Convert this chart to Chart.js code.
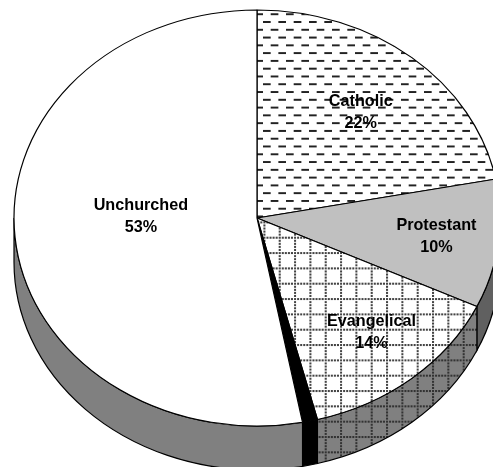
<!DOCTYPE html>
<html><head><meta charset="utf-8">
<style>html,body{margin:0;padding:0;background:#fff;overflow:hidden}#w{width:493px;height:467px}</style>
<script src="https://cdn.jsdelivr.net/npm/chart.js@4"></script>
</head><body><div id="w"><canvas id="c"></canvas></div>
<script>
const categories = ["Catholic", "Protestant", "Evangelical", "", "Unchurched"];
const shareValues = [22, 10, 14, 1, 53];
const percentLabels = ["22%", "10%", "14%", "", "53%"];
const labelRadialFractions = [0.67, 0.74, 0.72, 0, 0.48];
const labelNudges = [[0, 2], [1, -1], [3, -1], [0, 0], [0, -11]];
const wallColors = ["#808080", "#606060", "#808080", "#000000", "#808080"];

const TILT = 0.856, DEPTH = 44, CENTER_Y = 218, LINE = 1.2;

function tile(w, h, draw) {
  const t = document.createElement("canvas");
  t.width = w; t.height = h;
  draw(t.getContext("2d"));
  return t;
}
// Pattern phase and period given in page pixels, undoing the tilt applied while drawing.
function pattern(t, ox, oy, sx, sy) {
  const p = document.createElement("canvas").getContext("2d").createPattern(t, "repeat");
  p.setTransform(new DOMMatrix([sx, 0, 0, sy / TILT, ox, (oy - CENTER_Y * (1 - TILT)) / TILT]));
  return p;
}
const dashTile = tile(16, 16, g => {
  g.fillStyle = "#fff"; g.fillRect(0, 0, 16, 16);
  g.fillStyle = "#222";
  g.fillRect(0, 0, 8, 2);
  g.fillRect(8, 8, 8, 2);
});
function gridTile(bg, dot) {
  return tile(15, 15, g => {
    g.fillStyle = bg; g.fillRect(0, 0, 15, 15);
    g.fillStyle = dot;
    for (let i = 0; i < 15; i += 3) { g.fillRect(i, 0, 2, 2); g.fillRect(0, i, 2, 2); }
  });
}
const gridScale = 15.33 / 15;
const fills = [
  pattern(dashTile, 263, 21, 15.33 / 16, 7.78 / 8), "#c0c0c0",
  pattern(gridTile("#ffffff", "#444444"), 294, 252, gridScale, gridScale), "#000000", "#ffffff"
];
const wallFills = wallColors.slice();
wallFills[2] = pattern(gridTile("#808080", "#333333"), 294, 252, gridScale, gridScale);

const tiltPlugin = {
  id: "tilt",
  beforeDatasetsDraw(chart) {
    const ctx = chart.ctx;
    const arcs = chart.getDatasetMeta(0).data;
    const cx = arcs[0].x, cy = arcs[0].y, r = arcs[0].outerRadius;
    arcs.forEach((a, i) => {
      const s = Math.max(a.startAngle, 0), e = Math.min(a.endAngle, Math.PI);
      if (e <= s) return;
      ctx.save();
      ctx.translate(cx, cy);
      ctx.scale(1, TILT);
      ctx.translate(-cx, -cy);
      ctx.beginPath();
      ctx.arc(cx, cy, r, s, e);
      ctx.arc(cx, cy + DEPTH / TILT, r, e, s, true);
      ctx.closePath();
      ctx.fillStyle = wallFills[i];
      ctx.fill();
      ctx.restore();
      ctx.strokeStyle = "#000";
      ctx.lineWidth = LINE;
      ctx.stroke();
    });
    ctx.save();
    ctx.translate(cx, cy);
    ctx.scale(1, TILT);
    ctx.translate(-cx, -cy);
  },
  afterDatasetsDraw(chart) {
    const ctx = chart.ctx;
    ctx.restore();
    const arcs = chart.getDatasetMeta(0).data;
    ctx.save();
    ctx.font = "bold 16.2px 'Liberation Sans', Arial, sans-serif";
    ctx.fillStyle = "#000";
    ctx.textAlign = "center";
    ctx.textBaseline = "middle";
    arcs.forEach((a, i) => {
      if (!categories[i]) return;
      const m = (a.startAngle + a.endAngle) / 2;
      const d = a.outerRadius * labelRadialFractions[i];
      const x = a.x + Math.cos(m) * d + labelNudges[i][0];
      const y = a.y + Math.sin(m) * d * TILT + labelNudges[i][1];
      ctx.fillText(categories[i], x, y - 11);
      ctx.fillText(percentLabels[i], x, y + 11);
    });
    ctx.restore();
  }
};

new Chart(document.getElementById("c"), {
  type: "pie",
  data: {
    labels: categories,
    datasets: [{
      data: shareValues,
      backgroundColor: fills,
      borderColor: "#000",
      borderWidth: LINE
    }]
  },
  options: {
    responsive: true,
    maintainAspectRatio: false,
    animation: false,
    radius: 243,
    layout: { padding: { left: 21, right: 0, top: 0, bottom: 31 } },
    plugins: { legend: { display: false }, tooltip: { enabled: false } }
  },
  plugins: [tiltPlugin]
});
</script></body></html>
